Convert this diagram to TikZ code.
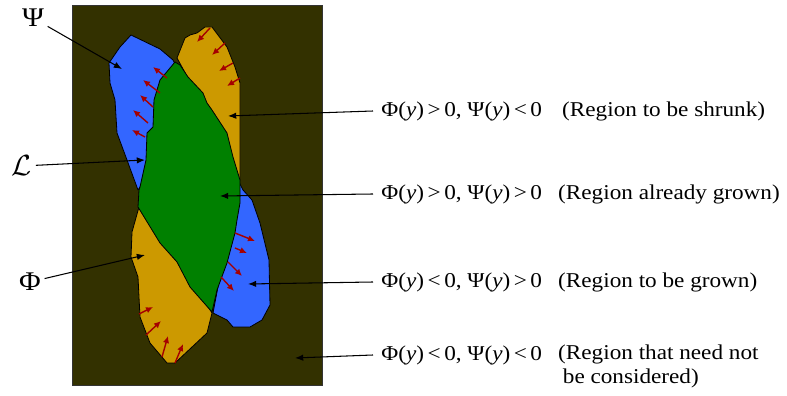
\documentclass[tikz,border=0pt]{standalone}
\usepackage{fontspec}
\setmainfont[FakeStretch=1.1]{Liberation Serif}
\usetikzlibrary{arrows.meta}
\definecolor{ground}{RGB}{51,49,0}
\definecolor{psiblue}{RGB}{51,102,255}
\definecolor{phiorange}{RGB}{204,153,0}
\definecolor{bothgreen}{RGB}{0,128,0}
\definecolor{flowred}{RGB}{165,0,0}

\begin{document}
\begin{tikzpicture}[
    x=0.3mm, y=-0.3mm,
    every node/.style={font=\fontsize{18}{20}\selectfont},
    cond/.style={
        anchor=west,
        inner xsep=7pt,
        inner ysep=0pt
    },
    note/.style={
        anchor=west,
        inner sep=0pt,
        align=left
    },
    sym/.style={
        font=\fontsize{23}{24}\selectfont,
        inner sep=3pt
    },
    lead/.style={
        -{Latex[length=7pt,width=5.5pt]},
        line width=0.9pt
    },
    push/.style={
        -{Latex[length=6pt,width=5.5pt]},
        flowred,
        line width=1.2pt
    },
    region/.style={
        draw=black,
        line width=0.7pt,
        line join=round
    }
]
\useasboundingbox (0,0) rectangle (787,396);

% domain
\filldraw[fill=ground, draw=black!80, line width=0.7pt]
(72,5) rectangle (322,385);

% Psi > 0, Phi < 0 (upper part)
\filldraw[region, fill=psiblue]
(131,35) -- (160,49) -- (173,60) -- (178,70) -- (160,120) -- (145,180)
-- (138,190) -- (127,160) -- (117,133) -- (115,100) -- (110,83)
-- (109,63) -- (120,47) -- cycle;

% Phi > 0, Psi < 0 (upper part)
\filldraw[region, fill=phiorange]
(185,38) -- (190,35) -- (197,33) -- (205,27) -- (212,27) -- (227,47)
-- (235,67) -- (240,83) -- (240,180) -- (220,160) -- (200,100)
-- (177,58) -- cycle;

% Psi > 0, Phi < 0 (lower part)
\filldraw[region, fill=psiblue]
(238,180) -- (243,190) -- (252,200) -- (260,223) -- (269,260)
-- (270,305) -- (262,320) -- (250,327) -- (233,327) -- (227,320)
-- (213,313) -- (225,250) -- cycle;

% Phi > 0, Psi < 0 (lower part)
\filldraw[region, fill=phiorange]
(139,207) -- (132,232) -- (131,257) -- (138,277) -- (140,317)
-- (150,343) -- (167,363) -- (175,363) -- (207,333) -- (212,313)
-- (180,260) -- cycle;

% both positive
\filldraw[region, fill=bothgreen]
(175,62) -- (180,65) -- (188,77) -- (203,93) -- (207,103) -- (212,110)
-- (227,133) -- (233,157) -- (240,180) -- (240,203) -- (237,220)
-- (235,233) -- (227,263) -- (217,290) -- (212,312) -- (190,287)
-- (177,262) -- (160,243) -- (138,207) -- (139,190) -- (140,187)
-- (146,160) -- (147,133) -- (153,127) -- (154,100) -- (160,80) -- cycle;

% evolution arrows
\foreach \xa/\ya/\xb/\yb in {
    167/78/153/67, 160/93/143/80, 153/107/140/95,
    148/123/133/110, 145/137/132/130,
    210/28/197/42, 225/43/212/55, 233/63/219/71, 240/78/227/86,
    235/233/255/241, 235/248/247/253, 228/262/242/276, 221/277/234/291,
    139/314/153/307, 146/335/161/321, 162/357/168/336, 175/363/183/344}
{
    \draw[push] (\xa,\ya) -- (\xb,\yb);
}

% points in the regions
\coordinate (psipt) at (122,69);
\coordinate (curve) at (145,160);
\coordinate (phipt) at (145,255);
\coordinate (shrink) at (228,116);
\coordinate (grown) at (220,196);
\coordinate (grow) at (248,284);
\coordinate (outside) at (295,358);

% labels
\node[sym] (psi) at (33,18) {Ψ};
\node[sym] (lset) at (22,166) {$\mathcal{L}$};
\node[sym] (phi) at (30,282) {Φ};

\node[cond] (c1) at (373,111) {Φ(\textit{y})\,>\,0, Ψ(\textit{y})\,<\,0};
\node[cond] (c2) at (373,194) {Φ(\textit{y})\,>\,0, Ψ(\textit{y})\,>\,0};
\node[cond] (c3) at (373,282) {Φ(\textit{y})\,<\,0, Ψ(\textit{y})\,>\,0};
\node[cond] (c4) at (373,355) {Φ(\textit{y})\,<\,0, Ψ(\textit{y})\,<\,0};

\node[note] (n1) at (562,111) {(Region to be shrunk)};
\node[note] (n2) at (558,194) {(Region already grown)};
\node[note] (n3) at (558,282) {(Region to be grown)};
\node[note, anchor=north west] (n4) at (558,345)
{(Region that need not\\\hspace{4pt}be considered)};

% leaders
\draw[lead] (psi) -- (psipt);
\draw[lead] (lset) -- (curve);
\draw[lead] (phi) -- (phipt);
\draw[lead] (c1.west) -- (shrink);
\draw[lead] (c2.west) -- (grown);
\draw[lead] (c3.west) -- (grow);
\draw[lead] (c4.west) -- (outside);

\end{tikzpicture}
\end{document}
